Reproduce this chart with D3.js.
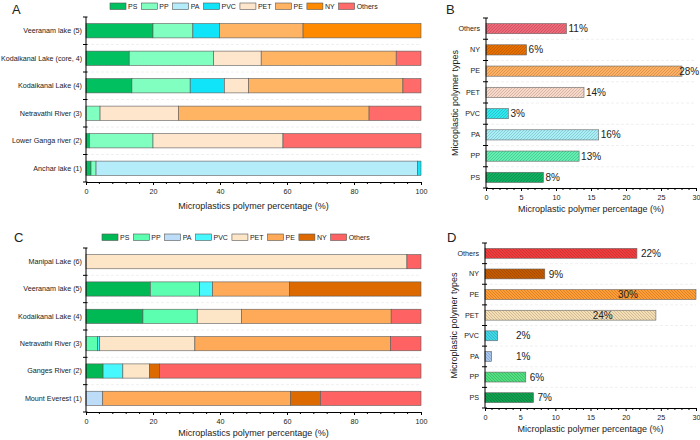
<!DOCTYPE html>
<html><head><meta charset="utf-8">
<script src="https://cdn.jsdelivr.net/npm/d3@7"></script>
<style>body{margin:0;background:#fff}svg{display:block;font-family:"Liberation Sans",Arial,sans-serif}</style>
</head><body>
<svg id="c" width="700" height="440"></svg>
<script>
// ---------- DATA ----------
const polymers = ["PS","PP","PA","PVC","PET","PE","NY","Others"];

const sitesA = ["Veeranam lake (5)","Kodaikanal Lake (core, 4)","Kodaikanal Lake (4)","Netravathi River (3)","Lower Ganga river (2)","Anchar lake (1)"];
const A_PS     = [20.0, 12.9, 13.7, 0,    1.0,  1.5];
const A_PP     = [11.9, 25.2, 17.4, 4.2,  19.0, 1.5];
const A_PA     = [0,    0,    0,    0,    0,    95.9];
const A_PVC    = [7.9,  0,    10.2, 0,    0,    1.1];
const A_PET    = [0,    14.2, 7.2,  23.4, 38.8, 0];
const A_PE     = [25.0, 40.3, 46.1, 56.9, 0,    0];
const A_NY     = [35.2, 0,    0,    0,    0,    0];
const A_Others = [0,    7.4,  5.4,  15.5, 41.2, 0];

const sitesC = ["Manipal Lake (6)","Veeranam lake (5)","Kodaikanal Lake (4)","Netravathi River (3)","Ganges River (2)","Mount Everest (1)"];
const C_PS     = [0,    19.2, 17.0, 0,    5.1,  0];
const C_PP     = [0,    14.7, 16.2, 3.5,  0,    0];
const C_PA     = [0,    0,    0,    0,    0,    5.0];
const C_PVC    = [0,    3.9,  0,    0.6,  5.9,  0];
const C_PET    = [95.8, 0,    13.2, 28.4, 7.9,  0];
const C_PE     = [0,    22.9, 44.7, 58.4, 0,    56.0];
const C_NY     = [0,    39.3, 0,    0,    3.1,  9.0];
const C_Others = [4.2,  0,    8.9,  9.1,  78.0, 30.0];

const typesBD = ["Others","NY","PE","PET","PVC","PA","PP","PS"];
const B_values = [11.5, 5.8, 28.0, 14.0, 3.2, 16.1, 13.3, 8.2];
const B_labels = ["11%","6%","28%","14%","3%","16%","13%","8%"];
const D_values = [21.6, 8.5, 30.0, 24.3, 1.8, 0.95, 5.8, 6.9];
const D_labels = ["22%","9%","30%","24%","2%","1%","6%","7%"];

const colorsA = {PS:"#00c060",PP:"#80ffc0",PA:"#b4ecfa",PVC:"#10e4f8",PET:"#fde6cc",PE:"#ffb464",NY:"#ff8a00",Others:"#ff6a6a"};
const colorsC = {PS:"#00b854",PP:"#5cffb0",PA:"#bcdcf8",PVC:"#48f8ff",PET:"#fde6c8",PE:"#ffaa58",NY:"#dc6a00",Others:"#ff6262"};
const colorsB = {Others:"#f06878",NY:"#e87000",PE:"#ffb060",PET:"#f8d8c8",PVC:"#30e8f0",PA:"#a8f0f8",PP:"#60f0b0",PS:"#10b060"};
const colorsD = {Others:"#f03c3c",NY:"#c45a00",PE:"#ff9c34",PET:"#f5deb4",PVC:"#40d8e8",PA:"#a8c8f0",PP:"#50e080",PS:"#10a050"};

// ---------- DRAW ----------
const svg = d3.select("#c");
const defs = svg.append("defs");
const FONT_TICK = 7.2, FONT_LEG = 7, FONT_TITLE = 9;

function panelLetter(t, x, y){
  svg.append("text").attr("x",x).attr("y",y).attr("font-size",13).attr("fill","#222").text(t);
}

function legend(x0, y0, colors){
  const g = svg.append("g");
  let x = x0;
  polymers.forEach(p => {
    g.append("rect").attr("x",x).attr("y",y0-3).attr("width",16).attr("height",6.5)
      .attr("fill",colors[p]).attr("stroke","#555").attr("stroke-width",0.6);
    const t = g.append("text").attr("x",x+18).attr("y",y0+2.6).attr("font-size",FONT_LEG).attr("fill","#222").text(p);
    x += 18 + t.node().getComputedTextLength() + 4;
  });
}

function fitLabels(sel, maxW){
  sel.each(function(){
    const w = this.getComputedTextLength();
    if (w > maxW) d3.select(this).attr("textLength", maxW).attr("lengthAdjust","spacingAndGlyphs");
  });
}

function stacked(sites, series, colors, xr, yr, leg, titleOff){
  const rows = sites.map((s,i)=>{const o={site:s}; polymers.forEach(p=>o[p]=series[p][i]); return o;});
  const stack = d3.stack().keys(polymers)(rows);
  const x = d3.scaleLinear().domain([0,100]).range(xr);
  const y = d3.scaleBand().domain(sites).range(yr).paddingInner(0.48).paddingOuter(0.24);
  const g = svg.append("g");
  const step = (yr[1]-yr[0])/sites.length;
  g.selectAll("line.sep").data(d3.range(1,sites.length)).join("line")
    .attr("x1",xr[0]).attr("x2",xr[1]).attr("y1",d=>yr[0]+d*step).attr("y2",d=>yr[0]+d*step)
    .attr("stroke","#ececec").attr("stroke-width",0.8).attr("stroke-dasharray","3,2");
  stack.forEach(layer=>{
    g.selectAll(null).data(layer.filter(d=>d[1]-d[0]>0)).join("rect")
      .attr("x",d=>x(d[0])).attr("width",d=>x(d[1])-x(d[0]))
      .attr("y",d=>y(d.data.site)).attr("height",y.bandwidth())
      .attr("fill",colors[layer.key]).attr("stroke","#5a5a5a").attr("stroke-width",0.6);
  });
  const xa = g.append("g").attr("transform",`translate(0,${yr[1]})`)
    .call(d3.axisBottom(x).tickValues([0,20,40,60,80,100]).tickSize(3).tickSizeOuter(0));
  xa.selectAll("text").attr("font-size",FONT_TICK).attr("fill","#222").attr("dy","0.9em");
  xa.append("g").selectAll("line").data(d3.range(0,101,4).filter(v=>v%20)).join("line")
    .attr("x1",d=>x(d)).attr("x2",d=>x(d)).attr("y1",0).attr("y2",2).attr("stroke","#000");
  const ya = g.append("g").attr("transform",`translate(${xr[0]},0)`)
    .call(d3.axisLeft(y).tickSize(0).tickPadding(4));
  ya.select(".domain").attr("d",`M0,${yr[0]}V${yr[1]}`);
  ya.selectAll("text").attr("font-size",FONT_TICK).attr("fill","#222");
  fitLabels(ya.selectAll(".tick text"), xr[0]-5);
  ya.append("g").selectAll("line").data(d3.range(0,sites.length+1)).join("line")
    .attr("x1",-3).attr("x2",1.5).attr("y1",d=>yr[0]+d*step).attr("y2",d=>yr[0]+d*step).attr("stroke","#000");
  g.append("text").attr("x",(xr[0]+xr[1])/2).attr("y",yr[1]+titleOff).attr("text-anchor","middle")
    .attr("font-size",FONT_TITLE).attr("fill","#222").text("Microplastics polymer percentage (%)");
  legend(leg[0], leg[1], colors);
}

function hatch(id, color, dir){
  const p = defs.append("pattern").attr("id",id).attr("patternUnits","userSpaceOnUse")
    .attr("width",3).attr("height",3);
  p.append("rect").attr("width",3).attr("height",3).attr("fill",color);
  const dk = d3.color(color).darker(0.9).formatHex();
  if(dir>0){
    p.append("path").attr("d","M-1,1 l2,-2 M0,3 l3,-3 M2,4 l2,-2").attr("stroke",dk).attr("stroke-width",0.7).attr("opacity",0.8);
  } else {
    p.append("path").attr("d","M-1,2 l2,2 M0,0 l3,3 M2,-1 l2,2").attr("stroke",dk).attr("stroke-width",0.7).attr("opacity",0.8);
  }
}

function hbars(values, labels, colors, xr, yr, pfx, dir, labelRule){
  const x = d3.scaleLinear().domain([0,30]).range(xr);
  const y = d3.scaleBand().domain(typesBD).range(yr).paddingInner(0.52).paddingOuter(0.26);
  const g = svg.append("g");
  const step = (yr[1]-yr[0])/typesBD.length;
  g.selectAll("line.sep").data(d3.range(1,typesBD.length)).join("line")
    .attr("x1",xr[0]).attr("x2",xr[1]).attr("y1",d=>yr[0]+d*step).attr("y2",d=>yr[0]+d*step)
    .attr("stroke","#ececec").attr("stroke-width",0.8).attr("stroke-dasharray","3,2");
  typesBD.forEach(t=>hatch(pfx+t, colors[t], dir));
  const data = typesBD.map((t,i)=>({t, v:values[i], l:labels[i]}));
  g.selectAll("rect.bar").data(data).join("rect")
    .attr("x",x(0)).attr("width",d=>x(d.v)-x(0))
    .attr("y",d=>y(d.t)).attr("height",y.bandwidth())
    .attr("fill",d=>`url(#${pfx}${d.t})`).attr("stroke","#666").attr("stroke-width",0.6);
  g.selectAll("text.lab").data(data).join("text")
    .attr("x",d=>labelRule(d.v,x)).attr("y",d=>y(d.t)+y.bandwidth()/2).attr("dy","0.36em")
    .attr("font-size",10).attr("fill","#222").text(d=>d.l);
  const xa = g.append("g").attr("transform",`translate(0,${yr[1]})`)
    .call(d3.axisBottom(x).tickValues([0,5,10,15,20,25,30]).tickSize(3).tickSizeOuter(0));
  xa.selectAll("text").attr("font-size",FONT_TICK).attr("fill","#222").attr("dy","0.9em");
  xa.append("g").selectAll("line").data(d3.range(0,31,1).filter(v=>v%5)).join("line")
    .attr("x1",d=>x(d)).attr("x2",d=>x(d)).attr("y1",0).attr("y2",2).attr("stroke","#000");
  const ya = g.append("g").attr("transform",`translate(${xr[0]},0)`)
    .call(d3.axisLeft(y).tickSize(0).tickPadding(6));
  ya.select(".domain").attr("d",`M0,${yr[0]}V${yr[1]}`);
  ya.selectAll("text").attr("font-size",FONT_TICK).attr("fill","#222");
  ya.append("g").selectAll("line").data(d3.range(0,typesBD.length+1)).join("line")
    .attr("x1",-3).attr("x2",2).attr("y1",d=>yr[0]+d*step).attr("y2",d=>yr[0]+d*step).attr("stroke","#000");
  g.append("text").attr("x",(xr[0]+xr[1])/2).attr("y",yr[1]+24).attr("text-anchor","middle")
    .attr("font-size",FONT_TITLE).attr("fill","#222").text("Microplastic polymer percentage (%)");
  g.append("text").attr("transform",`translate(${xr[0]-28},${(yr[0]+yr[1])/2}) rotate(-90)`)
    .attr("text-anchor","middle").attr("font-size",FONT_TITLE).attr("fill","#222").text("Microplastic polymer types");
}

const seriesA = {PS:A_PS,PP:A_PP,PA:A_PA,PVC:A_PVC,PET:A_PET,PE:A_PE,NY:A_NY,Others:A_Others};
const seriesC = {PS:C_PS,PP:C_PP,PA:C_PA,PVC:C_PVC,PET:C_PET,PE:C_PE,NY:C_NY,Others:C_Others};

panelLetter("A", 12, 14);
stacked(sitesA, seriesA, colorsA, [86,421], [17,182], [110,6], 27);
panelLetter("B", 446, 14);
hbars(B_values, B_labels, colorsB, [486,696], [18,188], "hb", 1, (v,x)=>Math.min(x(v)+2, x(27.6)));
panelLetter("C", 14, 242);
stacked(sitesC, seriesC, colorsC, [86,421], [248,412], [102,237], 23.5);
panelLetter("D", 447, 242);
hbars(D_values, D_labels, colorsD, [485,696], [243,408], "hd", -1, (v,x)=> v>23 ? x(v*0.63) : Math.max(x(v)+4, x(4.4)));
</script>
</body></html>
